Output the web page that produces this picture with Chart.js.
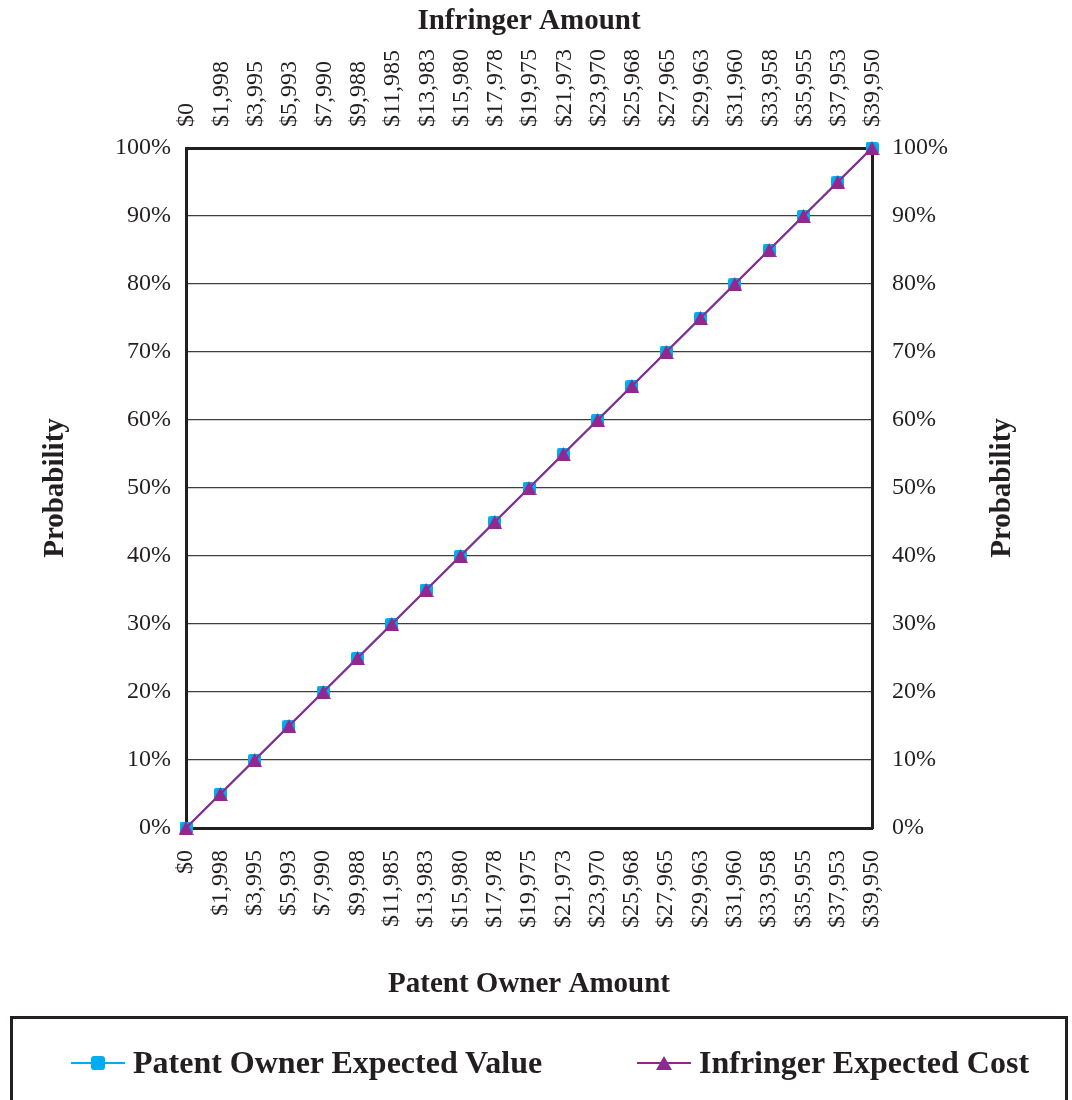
<!DOCTYPE html>
<html>
<head>
<meta charset="utf-8">
<script src="https://cdn.jsdelivr.net/npm/chart.js@4/dist/chart.umd.min.js"></script>
<style>
    body { margin: 0; background: #fff; }
    #wrap { position: relative; width: 1072px; height: 1100px; overflow: hidden; }
    #legend {
        position: absolute; left: 10px; top: 1016px; width: 1058px; height: 120px;
        border: 3px solid #231f20; box-sizing: border-box;
        font: bold 32px "Liberation Serif", "Times New Roman", serif; color: #231f20;
    }
    .item { position: absolute; top: 25px; display: flex; align-items: center; white-space: nowrap; }
    .icon { position: relative; width: 54px; height: 20px; margin-right: 8px; }
    .icon .ln { position: absolute; left: 0; right: 0; top: 9px; height: 2px; }
    .icon .sq { position: absolute; left: 20px; top: 3px; width: 14px; height: 14px; border-radius: 3px; }
    .icon .tri { position: absolute; left: 19px; top: 3px; width: 0; height: 0;
        border-left: 8px solid transparent; border-right: 8px solid transparent; border-bottom: 14px solid; }
</style>
</head>
<body>
<div id="wrap">
    <canvas id="chart"></canvas>
    <div id="legend"></div>
</div>
<script>
// --- Data ---
const amountLabels = ['$0', '$1,998', '$3,995', '$5,993', '$7,990', '$9,988', '$11,985', '$13,983',
    '$15,980', '$17,978', '$19,975', '$21,973', '$23,970', '$25,968', '$27,965', '$29,963',
    '$31,960', '$33,958', '$35,955', '$37,953', '$39,950'];
const ownerExpectedValue = [0, 5, 10, 15, 20, 25, 30, 35, 40, 45, 50, 55, 60, 65, 70, 75, 80, 85, 90, 95, 100];
const infringerExpectedCost = [0, 5, 10, 15, 20, 25, 30, 35, 40, 45, 50, 55, 60, 65, 70, 75, 80, 85, 90, 95, 100];
const bottomTitle = 'Patent Owner Amount';
const topTitle = 'Infringer Amount';
const yTitle = 'Probability';

const CYAN = '#00aeef';
const PURPLE = '#92278f';
const INK = '#231f20';
const serif = '"Liberation Serif", "Times New Roman", serif';

const tickFont = { family: serif, size: 24 };
const titleFont = { family: serif, size: 29, weight: 'bold' };

// marker come immagini, centrati sul riquadro come nell'originale
function squareMarker(color) {
    const c = document.createElement('canvas');
    c.width = 13; c.height = 13;
    const g = c.getContext('2d');
    g.fillStyle = color;
    g.beginPath();
    g.roundRect(0, 0, 13, 13, 3);
    g.fill();
    return c;
}
function triangleMarker(color) {
    const c = document.createElement('canvas');
    c.width = 15; c.height = 14;
    const g = c.getContext('2d');
    g.fillStyle = color;
    g.beginPath();
    g.moveTo(7.5, 0);
    g.lineTo(15, 14);
    g.lineTo(0, 14);
    g.closePath();
    g.fill();
    return c;
}

// titolo destro letto dal basso verso l'alto come quello sinistro
const rightTitle = {
    id: 'rightTitle',
    afterDraw(chart) {
        const s = chart.scales.y2;
        const ctx = chart.ctx;
        ctx.save();
        ctx.translate(s.right - 69, (chart.chartArea.top + chart.chartArea.bottom) / 2);
        ctx.rotate(-Math.PI / 2);
        ctx.font = 'bold 29px ' + serif;
        ctx.fillStyle = INK;
        ctx.textAlign = 'center';
        ctx.textBaseline = 'middle';
        ctx.fillText(yTitle, 0, 0);
        ctx.restore();
    }
};

const chart = new Chart(document.getElementById('chart'), {
    type: 'line',
    data: {
        labels: amountLabels,
        datasets: [{
            label: 'Patent Owner Expected Value',
            data: ownerExpectedValue,
            borderColor: CYAN, backgroundColor: CYAN,
            borderWidth: 2, pointStyle: squareMarker(CYAN), legendStyle: 'square',
            clip: false, order: 1
        }, {
            label: 'Infringer Expected Cost',
            data: infringerExpectedCost,
            borderColor: PURPLE, backgroundColor: PURPLE,
            borderWidth: 2, pointStyle: triangleMarker(PURPLE), legendStyle: 'triangle',
            clip: false, order: 0
        }]
    },
    options: {
        responsive: true,
        maintainAspectRatio: false,
        animation: false,
        layout: { padding: { top: 0, left: 0, right: 0, bottom: 84 } },
        plugins: { legend: { display: false }, tooltip: { enabled: false } },
        scales: {
            x: {
                type: 'category', position: 'bottom', offset: false,
                grid: { display: false },
                border: { display: true, color: INK, width: 3 },
                ticks: { font: tickFont, color: INK, minRotation: 90, maxRotation: 90, padding: 14, autoSkip: false },
                title: { display: true, text: bottomTitle, font: titleFont, color: INK, padding: { top: 0, bottom: 14 } },
                afterFit: s => { s.height = 188; }
            },
            x2: {
                type: 'category', position: 'top', offset: false, labels: amountLabels,
                grid: { display: false },
                border: { display: true, color: INK, width: 3 },
                ticks: { font: tickFont, color: INK, minRotation: 90, maxRotation: 90, padding: 13, labelOffset: 30, autoSkip: false },
                title: { display: true, text: topTitle, font: titleFont, color: INK, padding: { top: 4, bottom: 0 } },
                afterFit: s => { s.height = 148; }
            },
            y: {
                position: 'left', min: 0, max: 100,
                grid: { color: '#3f3f41', lineWidth: 1.2, drawTicks: false },
                border: { display: true, color: INK, width: 3 },
                ticks: { stepSize: 10, font: tickFont, color: INK, padding: 15, callback: v => v + '%' },
                title: { display: true, text: yTitle, font: titleFont, color: INK, padding: { top: 38, bottom: 0 } },
                afterFit: s => { s.width = 186; }
            },
            y2: {
                position: 'right', min: 0, max: 100,
                grid: { display: false, drawTicks: false },
                border: { display: true, color: INK, width: 3 },
                ticks: { stepSize: 10, font: tickFont, color: INK, padding: 20, callback: v => v + '%' },
                afterFit: s => { s.width = 200; }
            }
        }
    },
    plugins: [rightTitle]
});

// --- Legenda HTML ---
const legendEl = document.getElementById('legend');
const itemLeft = [58, 624];
chart.data.datasets.forEach((ds, i) => {
    const item = document.createElement('div');
    item.className = 'item';
    item.style.left = itemLeft[i] + 'px';
    const icon = document.createElement('span');
    icon.className = 'icon';
    const marker = ds.legendStyle === 'triangle'
        ? `<span class="tri" style="border-bottom-color:${ds.borderColor}"></span>`
        : `<span class="sq" style="background:${ds.borderColor}"></span>`;
    icon.innerHTML = `<span class="ln" style="background:${ds.borderColor}"></span>${marker}`;
    const txt = document.createElement('span');
    txt.textContent = ds.label;
    item.appendChild(icon);
    item.appendChild(txt);
    legendEl.appendChild(item);
});
</script>
</body>
</html>
